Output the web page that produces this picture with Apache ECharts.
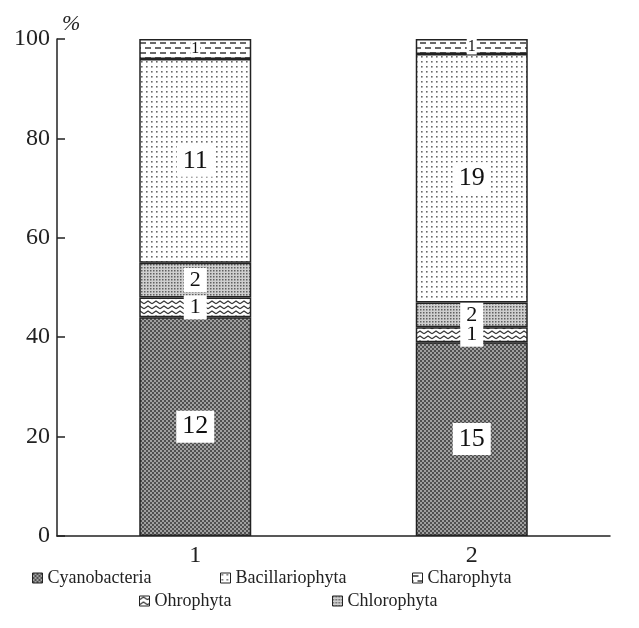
<!DOCTYPE html>
<html>
<head>
<meta charset="utf-8">
<script src="https://cdn.jsdelivr.net/npm/echarts@6/dist/echarts.min.js"></script>
<style>html,body{margin:0;padding:0;background:#fff}#c{width:639px;height:628px}</style>
</head>
<body>
<div id="c"></div>
<script>
// ---- data ----
var categories = ['1', '2'];
var cyanobacteria = [44, 39];
var ohrophyta = [4, 3];
var chlorophyta = [7, 5];
var bacillariophyta = [41, 50];
var charophyta = [4, 3];
// species counts shown inside the segments
var cyanoCounts = [12, 15];
var ohroCounts = [1, 1];
var chloroCounts = [2, 2];
var bacilCounts = [11, 19];
var charoCounts = [1, 1];
var yTicks = [0, 20, 40, 60, 80, 100];

// ---- patterns ----
function tile(w, h, draw) {
  var c = document.createElement('canvas');
  c.width = w; c.height = h;
  var g = c.getContext('2d');
  draw(g, w, h);
  return { image: c, repeat: 'repeat' };
}
var pCyano = tile(4, 4, function (g) {
  g.fillStyle = '#a0a0a0'; g.fillRect(0, 0, 4, 4);
  g.fillStyle = '#505050'; g.fillRect(0, 0, 2, 2); g.fillRect(2, 2, 2, 2);
});
var pChloro = tile(3, 3, function (g) {
  g.fillStyle = '#cfcfcf'; g.fillRect(0, 0, 3, 3);
  g.fillStyle = '#606060'; g.fillRect(0, 0, 1.5, 1.5);
});
var pBacil = tile(5, 5, function (g) {
  g.fillStyle = '#ffffff'; g.fillRect(0, 0, 5, 5);
  g.fillStyle = '#6a6a6a'; g.fillRect(1, 1, 1.6, 1.6);
});
var pOhro = tile(8, 5, function (g) {
  g.fillStyle = '#ffffff'; g.fillRect(0, 0, 8, 5);
  g.strokeStyle = '#3a3a3a'; g.lineWidth = 1.3;
  g.beginPath(); g.moveTo(0, 3.8); g.lineTo(4, 1); g.lineTo(8, 3.8); g.stroke();
});
var pCharo = tile(10, 10, function (g) {
  g.fillStyle = '#ffffff'; g.fillRect(0, 0, 10, 10);
  g.strokeStyle = '#3a3a3a'; g.lineWidth = 1.4;
  g.beginPath();
  g.moveTo(0, 3); g.lineTo(6, 3);
  g.moveTo(5, 8); g.lineTo(10, 8);
  g.moveTo(0, 8); g.lineTo(1, 8);
  g.stroke();
});

var serif = 'Liberation Serif';
function mkLabel(arr, size, pad) {
  return {
    show: true, position: 'inside',
    formatter: function (p) { return String(arr[p.dataIndex]); },
    color: '#111', fontFamily: serif, fontSize: size,
    backgroundColor: '#fff', padding: pad
  };
}
function mkSeries(name, data, pattern, counts, size, pad) {
  return {
    name: name, type: 'bar', stack: 'total', data: data, barWidth: 112,
    itemStyle: { color: pattern, borderColor: '#222', borderWidth: 1.5 },
    label: mkLabel(counts, size, pad),
    emphasis: { disabled: true }
  };
}
function leg(name, left, top) {
  return {
    data: [name], left: left, top: top, icon: 'rect', padding: 0,
    itemWidth: 10, itemHeight: 10, itemGap: 0,
    itemStyle: { borderColor: '#222', borderWidth: 1 },
    textStyle: { fontFamily: serif, fontSize: 18, color: '#222' },
    selectedMode: false
  };
}

var chart = echarts.init(document.getElementById('c'), null, { renderer: 'canvas' });
chart.setOption({
  animation: false,
  backgroundColor: '#fff',
  grid: { left: 57, right: 29, top: 39, bottom: 92 },
  xAxis: {
    type: 'category', data: categories,
    axisLine: { lineStyle: { color: '#222', width: 1.5 } },
    axisTick: { show: false },
    axisLabel: { fontFamily: serif, fontSize: 24, color: '#222', margin: 8 }
  },
  yAxis: {
    type: 'value', min: yTicks[0], max: yTicks[yTicks.length - 1], interval: 20,
    axisLine: { show: true, lineStyle: { color: '#222', width: 1.5 } },
    axisTick: { show: true, inside: true, length: 8, lineStyle: { color: '#222', width: 1.5 } },
    splitLine: { show: false },
    axisLabel: { fontFamily: serif, fontSize: 24, color: '#222', margin: 7 }
  },
  graphic: [{
    type: 'text', left: 62, top: 13,
    style: { text: '%', fontFamily: serif, fontStyle: 'italic', fontSize: 22, fill: '#222' }
  }],
  legend: [
    leg('Cyanobacteria', 32, 569),
    leg('Bacillariophyta', 220, 569),
    leg('Charophyta', 412, 569),
    leg('Ohrophyta', 139, 592),
    leg('Chlorophyta', 332, 592)
  ],
  series: [
    mkSeries('Cyanobacteria', cyanobacteria, pCyano, cyanoCounts, 26, [4, 6, 2, 6]),
    mkSeries('Ohrophyta', ohrophyta, pOhro, ohroCounts, 22, [2, 6, 0, 6]),
    mkSeries('Chlorophyta', chlorophyta, pChloro, chloroCounts, 22, [2, 6, 0, 6]),
    mkSeries('Bacillariophyta', bacillariophyta, pBacil, bacilCounts, 26, [4, 6, 2, 6]),
    mkSeries('Charophyta', charophyta, pCharo, charoCounts, 16, [0, 1, 0, 1])
  ]
});
</script>
</body>
</html>
